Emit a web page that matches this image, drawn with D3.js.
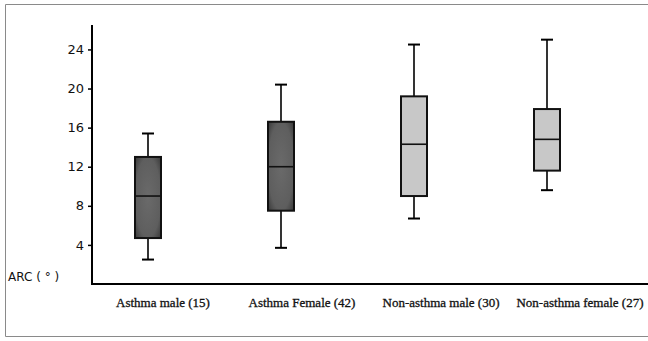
<!DOCTYPE html>
<html><head><meta charset="utf-8">
<script src="https://cdn.jsdelivr.net/npm/d3@7/dist/d3.min.js"></script>
<style>body{margin:0;background:#fff;overflow:hidden}svg{display:block}</style>
</head><body>
<script>
const categories = ["Asthma male (15)", "Asthma Female (42)", "Non-asthma male (30)", "Non-asthma female (27)"];
const mins    = [2.5, 3.7, 6.7, 9.6];
const q1s     = [4.7, 7.5, 9.0, 11.6];
const medians = [9.0, 12.0, 14.3, 14.8];
const q3s     = [13.0, 16.6, 19.2, 17.9];
const maxs    = [15.4, 20.4, 24.5, 25.0];
const groups  = ["asthma", "asthma", "non", "non"];
const yTicks  = [4, 8, 12, 16, 20, 24];

const W = 648, H = 341;
const svg = d3.select("body").append("svg").attr("width", W).attr("height", H);
const defs = svg.append("defs");
const rg = defs.append("radialGradient").attr("id", "dark").attr("cx", "50%").attr("cy", "50%").attr("r", "70%");
rg.append("stop").attr("offset", "0%").attr("stop-color", "#6a6a6a");
rg.append("stop").attr("offset", "70%").attr("stop-color", "#5e5e5e");
rg.append("stop").attr("offset", "100%").attr("stop-color", "#383838");

svg.append("path").attr("d", `M${W},4.5 H5.5 V336.5 H${W}`)
  .attr("fill", "none").attr("stroke", "#8a8a8a").attr("stroke-width", 1);

const y = d3.scaleLinear().domain([0, 26.5]).range([284, 25]);
const x = d3.scalePoint().domain(categories).range([148, 547]);
const xl = d3.scalePoint().domain(categories).range([163, 580]);

const yAxis = d3.axisLeft(y).tickValues(yTicks).tickSize(4).tickPadding(4);
const gy = svg.append("g").attr("transform", "translate(92,0)").call(yAxis);
gy.select(".domain").remove();
gy.selectAll(".tick line").attr("stroke", "#000").attr("stroke-width", 1.5);
gy.selectAll(".tick text").attr("font-family", "DejaVu Sans, sans-serif").attr("font-size", 13).attr("fill", "#111");
svg.append("line").attr("x1", 92).attr("x2", 92).attr("y1", y(26.5)).attr("y2", y(0) + 1).attr("stroke", "#000").attr("stroke-width", 2);
svg.append("line").attr("x1", 91).attr("x2", W).attr("y1", y(0)).attr("y2", y(0)).attr("stroke", "#000").attr("stroke-width", 2);

svg.append("text").attr("x", 8).attr("y", 281).attr("font-family", "DejaVu Sans, sans-serif").attr("font-size", 12).attr("fill", "#111").text("ARC ( ° )");

const bw = 26, cw = 12;
categories.forEach((c, i) => {
  const cx = x(c);
  const g = svg.append("g");
  g.append("line").attr("x1", cx).attr("x2", cx).attr("y1", y(maxs[i])).attr("y2", y(mins[i])).attr("stroke", "#000").attr("stroke-width", 1.6);
  g.append("line").attr("x1", cx - cw/2).attr("x2", cx + cw/2).attr("y1", y(maxs[i])).attr("y2", y(maxs[i])).attr("stroke", "#000").attr("stroke-width", 2);
  g.append("line").attr("x1", cx - cw/2).attr("x2", cx + cw/2).attr("y1", y(mins[i])).attr("y2", y(mins[i])).attr("stroke", "#000").attr("stroke-width", 2);
  g.append("rect").attr("x", cx - bw/2).attr("y", y(q3s[i])).attr("width", bw).attr("height", y(q1s[i]) - y(q3s[i]))
    .attr("fill", groups[i] === "asthma" ? "url(#dark)" : "#c8c8c8").attr("stroke", "#111").attr("stroke-width", 2);
  g.append("line").attr("x1", cx - bw/2).attr("x2", cx + bw/2).attr("y1", y(medians[i])).attr("y2", y(medians[i])).attr("stroke", "#111").attr("stroke-width", 1.6);
  svg.append("text").attr("x", xl(c)).attr("y", 307).attr("text-anchor", "middle")
    .attr("font-family", "Liberation Serif, serif").attr("font-size", 13).attr("fill", "#111")
    .attr("stroke", "#111").attr("stroke-width", 0.3).text(c);
});
</script>
</body></html>
